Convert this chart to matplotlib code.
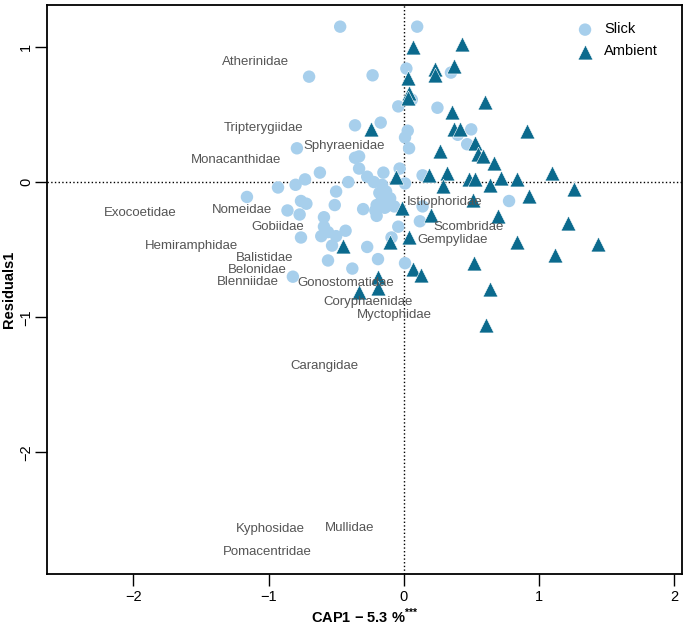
import numpy as np
import matplotlib.pyplot as plt

plt.rcParams['font.family'] = ['Liberation Sans', 'DejaVu Sans']
plt.rcParams['mathtext.fontset'] = 'custom'
plt.rcParams['mathtext.rm'] = 'Liberation Sans'
plt.rcParams['mathtext.bf'] = 'Liberation Sans:bold'

# slick samples (CAP1, residual axis)
slick_x = [-0.47, 0.10, -0.70, -0.23, 0.02, 0.35, 0.06, -0.04, 0.25, -0.36,
           -0.17, 0.03, 0.01, 0.04, 0.50, 0.40, 0.47, -0.79, -0.36, -0.33,
           -0.62, -0.73, -0.93, -0.80, -1.16, -0.50, -0.41, -0.33, -0.27, -0.22,
           -0.15, -0.03, 0.01, -0.16, -0.13, -0.18, -0.16, -0.10, -0.20, -0.13,
           -0.76, -0.72, -0.51, -0.30, -0.21, -0.14, -0.20, -0.07, -0.86, -0.77,
           -0.59, -0.59, -0.61, -0.56, -0.50, -0.43, -0.53, -0.76, -0.27, -0.09,
           -0.04, 0.12, 0.14, 0.14, -0.19, 0.01, -0.56, -0.38, -0.82, 0.78]
slick_y = [1.15, 1.15, 0.78, 0.79, 0.84, 0.81, 0.61, 0.56, 0.55, 0.42,
           0.44, 0.38, 0.33, 0.25, 0.39, 0.35, 0.28, 0.25, 0.18, 0.19,
           0.07, 0.02, -0.04, -0.02, -0.11, -0.07, 0.00, 0.10, 0.04, 0.00,
           0.07, 0.10, -0.01, -0.02, -0.07, -0.08, -0.12, -0.12, -0.17, -0.18,
           -0.14, -0.16, -0.17, -0.20, -0.21, -0.19, -0.25, -0.18, -0.21, -0.24,
           -0.26, -0.33, -0.40, -0.37, -0.40, -0.36, -0.47, -0.41, -0.48, -0.41,
           -0.33, -0.29, -0.18, 0.05, -0.57, -0.60, -0.58, -0.64, -0.70, -0.14]

# ambient samples
amb_x = [0.07, 0.43, 0.23, 0.23, 0.37, 0.03, 0.04, 0.03, 0.60, 0.36,
         0.37, 0.42, 0.91, 0.53, 0.27, 0.55, 0.59, 0.67, -0.24, -0.06,
         0.19, 0.32, 0.48, 0.53, 0.72, 0.84, 0.64, 0.29, 1.10, 1.26,
         0.93, 0.51, -0.01, 0.20, 0.70, 1.22, 0.04, -0.10, 0.84, 1.44,
         1.12, 0.52, -0.45, 0.07, 0.13, -0.19, -0.19, -0.33, 0.64, 0.61]
amb_y = [1.00, 1.02, 0.84, 0.79, 0.86, 0.77, 0.66, 0.62, 0.59, 0.52,
         0.39, 0.39, 0.38, 0.29, 0.23, 0.21, 0.19, 0.14, 0.39, 0.04,
         0.05, 0.07, 0.02, 0.02, 0.03, 0.02, -0.02, -0.03, 0.07, -0.05,
         -0.10, -0.13, -0.19, -0.24, -0.25, -0.30, -0.41, -0.44, -0.44, -0.46,
         -0.54, -0.60, -0.47, -0.64, -0.69, -0.70, -0.78, -0.81, -0.79, -1.06]

# family labels (species vectors)
families = ['Atherinidae', 'Tripterygiidae', 'Sphyraenidae', 'Monacanthidae',
            'Exocoetidae', 'Nomeidae', 'Gobiidae', 'Hemiramphidae', 'Balistidae',
            'Belonidae', 'Blenniidae', 'Gonostomatidae', 'Coryphaenidae',
            'Myctophidae', 'Istiophoridae', 'Scombridae', 'Gempylidae',
            'Carangidae', 'Kyphosidae', 'Mullidae', 'Pomacentridae']
fam_x = [-1.10, -1.04, -0.44, -1.24, -1.95, -1.20, -0.93, -1.57, -1.03,
         -1.08, -1.15, -0.43, -0.26, -0.07, 0.30, 0.48, 0.36,
         -0.59, -0.99, -0.40, -1.01]
fam_y = [0.89, 0.40, 0.27, 0.16, -0.23, -0.21, -0.33, -0.47, -0.56,
         -0.65, -0.74, -0.75, -0.89, -0.98, -0.15, -0.33, -0.43,
         -1.36, -2.57, -2.56, -2.74]

fig = plt.figure(figsize=(6.85, 6.29), dpi=100)
ax = fig.add_axes([0.0686, 0.0874, 0.927, 0.9046])

ax.axhline(0, color='black', ls=':', lw=1, zorder=1)
ax.axvline(0, color='black', ls=':', lw=1, zorder=1)

ax.scatter(slick_x, slick_y, s=80, marker='o', color='#a7cfec', edgecolors='none',
           label='Slick', zorder=2)
ax.scatter(amb_x, amb_y, s=115, marker='^', color='#0b6a8d', edgecolors='white',
           linewidths=0.4, label='Ambient', zorder=3)

for name, fx, fy in zip(families, fam_x, fam_y):
    ax.text(fx, fy, name, ha='center', va='center', fontsize=9.5, color='#555555', zorder=4)

ax.set_xlim(-2.64, 2.06)
ax.set_ylim(-2.90, 1.31)
ax.set_xticks([-2, -1, 0, 1, 2])
ax.set_yticks([-2, -1, 0, 1])
ax.set_yticklabels(['\u22122', '\u22121', '0', '1'], rotation=90, va='center')
ax.set_xticklabels(['\u22122', '\u22121', '0', '1', '2'])
ax.tick_params(direction='out', length=8.5, width=1, labelsize=10.5)
ax.tick_params(axis='x', pad=3)
ax.tick_params(axis='y', pad=1.5)
for sp in ax.spines.values():
    sp.set_linewidth(1.3)

ax.set_xlabel('CAP1 \u2212 5.3 %$^{\\mathbf{{*}{*}{*}}}$', fontsize=10.5,
              fontweight='bold', labelpad=2)
ax.set_ylabel('Residuals1', fontsize=10.5, fontweight='bold', va='center')
ax.yaxis.set_label_coords(-0.060, 0.5)

ax.legend(loc='upper right', frameon=False, fontsize=10.5, handletextpad=0.3,
          borderaxespad=0.6, labelspacing=0.55, bbox_to_anchor=(0.985, 0.995))

fig.savefig('out.png', dpi=100)
